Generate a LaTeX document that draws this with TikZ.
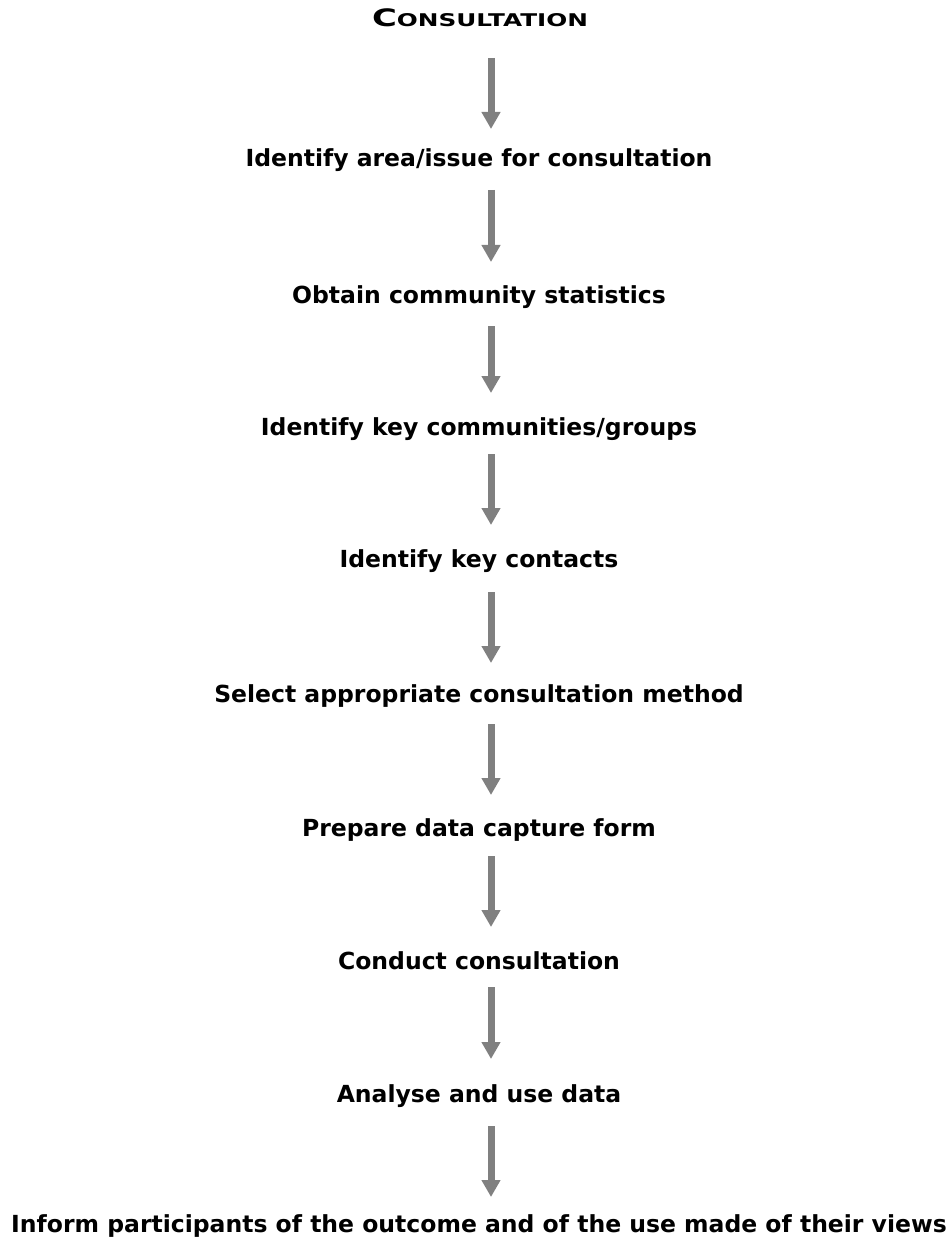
\documentclass[tikz,border=0pt]{standalone}
\usepackage{fontspec}
\usepackage{graphicx}
\setmainfont{DejaVu Sans}
\usetikzlibrary{arrows.meta}
\definecolor{arrowgray}{RGB}{128,128,128}
\begin{document}
\begin{tikzpicture}[x=1pt,y=1pt,
  stepnode/.style={anchor=base,inner sep=0pt,font=\bfseries\fontsize{23.5}{28}\selectfont},
  flow/.style={draw=arrowgray,line width=7pt,-{Triangle[width=18pt,length=17pt]}}]
\useasboundingbox (0,0) rectangle (951,-1238);
\node[stepnode] (t0) at (480,-27) {\resizebox{216pt}{\height}{\fontsize{24}{28}\selectfont C\fontsize{17.5}{20}\selectfont ONSULTATION}};
\node[stepnode] (t1) at (479,-167) {Identify area/issue for consultation};
\node[stepnode] (t2) at (479,-304) {Obtain community statistics};
\node[stepnode] (t3) at (479,-435) {Identify key communities/groups};
\node[stepnode] (t4) at (479,-567) {Identify key contacts};
\node[stepnode] (t5) at (479,-702) {Select appropriate consultation method};
\node[stepnode] (t6) at (479,-836) {Prepare data capture form};
\node[stepnode] (t7) at (479,-969) {Conduct consultation};
\node[stepnode] (t8) at (479,-1102) {Analyse and use data};
\node[stepnode] (t9) at (479,-1232) {Inform participants of the outcome and of the use made of their views};
\draw[flow] ([shift={(11,-31)}]t0.base) -- ([shift={(12,38)}]t1.base);
\draw[flow] ([shift={(12,-23)}]t1.base) -- ([shift={(12,42)}]t2.base);
\draw[flow] ([shift={(12,-22)}]t2.base) -- ([shift={(12,42)}]t3.base);
\draw[flow] ([shift={(12,-19)}]t3.base) -- ([shift={(12,42)}]t4.base);
\draw[flow] ([shift={(12,-25)}]t4.base) -- ([shift={(12,39)}]t5.base);
\draw[flow] ([shift={(12,-22)}]t5.base) -- ([shift={(12,41)}]t6.base);
\draw[flow] ([shift={(12,-20)}]t6.base) -- ([shift={(12,42)}]t7.base);
\draw[flow] ([shift={(12,-18)}]t7.base) -- ([shift={(12,43)}]t8.base);
\draw[flow] ([shift={(12,-24)}]t8.base) -- ([shift={(12,35)}]t9.base);
\end{tikzpicture}
\end{document}
